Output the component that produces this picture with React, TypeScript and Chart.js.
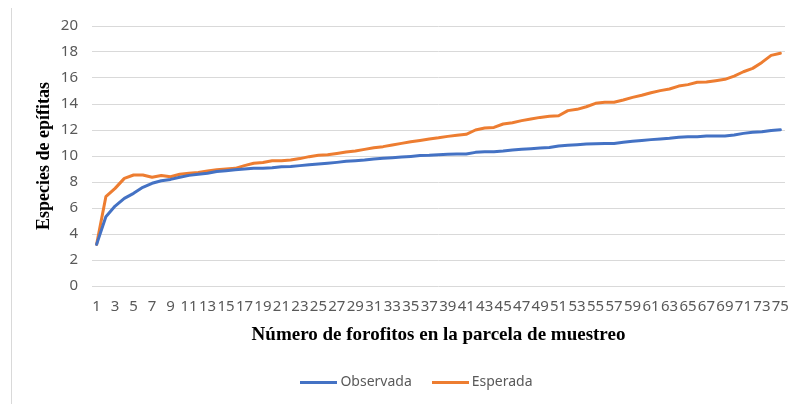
import React, { useEffect, useRef } from "react";
import { Chart, registerables } from "chart.js";

Chart.register(...registerables);

const categories: string[] = Array.from({ length: 75 }, (_, i) => String(i + 1));

const observada: number[] = [
  3.2, 5.33, 6.15, 6.74, 7.13, 7.59, 7.9, 8.1, 8.2, 8.36,
  8.51, 8.59, 8.67, 8.8, 8.87, 8.95, 9.0, 9.05, 9.05, 9.1,
  9.18, 9.2, 9.26, 9.33, 9.38, 9.44, 9.51, 9.59, 9.64, 9.69,
  9.77, 9.82, 9.87, 9.92, 9.97, 10.03, 10.05, 10.1, 10.13, 10.15,
  10.15, 10.28, 10.33, 10.33, 10.38, 10.46, 10.51, 10.56, 10.62, 10.65,
  10.77, 10.82, 10.87, 10.92, 10.95, 10.97, 10.97, 11.05, 11.13, 11.2,
  11.26, 11.31, 11.36, 11.44, 11.49, 11.49, 11.54, 11.54, 11.54, 11.62,
  11.74, 11.82, 11.87, 11.97, 12.02,
];

const esperada: number[] = [
  3.2, 6.87, 7.51, 8.28, 8.54, 8.54, 8.36, 8.5, 8.4, 8.6,
  8.67, 8.74, 8.85, 8.95, 9.0, 9.05, 9.26, 9.44, 9.5, 9.64,
  9.64, 9.7, 9.8, 9.95, 10.05, 10.1, 10.2, 10.31, 10.38, 10.51,
  10.64, 10.72, 10.85, 10.97, 11.1, 11.2, 11.31, 11.4, 11.51, 11.59,
  11.67, 12.0, 12.15, 12.2, 12.46, 12.56, 12.72, 12.85, 12.97, 13.05,
  13.1, 13.49, 13.59, 13.79, 14.05, 14.13, 14.13, 14.31, 14.51, 14.67,
  14.87, 15.03, 15.15, 15.38, 15.49, 15.67, 15.69, 15.79, 15.9, 16.15,
  16.48, 16.74, 17.2, 17.74, 17.9,
];

const seriesNames: string[] = ["Observada", "Esperada"];
const seriesColors: string[] = ["#4472C4", "#ED7D31"];
const yTitle = "Especies de epífitas";
const xTitle = "Número de forofitos en la parcela de muestreo";

const TICK_FONT = "'Noto Sans', sans-serif";
const TITLE_FONT = "'Liberation Serif', 'Times New Roman', serif";

function makeLineImage(color: string): HTMLCanvasElement {
  const c = document.createElement("canvas");
  c.width = 37;
  c.height = 3;
  const ctx = c.getContext("2d")!;
  ctx.fillStyle = color;
  ctx.fillRect(0, 0, 37, 3);
  return c;
}

const legendShift = {
  id: "legendShift",
  afterLayout(chart: any) {
    const lg = chart.legend;
    if (lg) {
      lg.left += 7;
      lg.right += 7;
    }
  },
};

export default function App() {
  const ref = useRef<HTMLCanvasElement | null>(null);

  useEffect(() => {
    if (!ref.current) return;
    const chart = new Chart(ref.current, {
      type: "line",
      data: {
        labels: categories,
        datasets: seriesNames.map((name, k) => ({
          label: name,
          data: k === 0 ? observada : esperada,
          borderColor: seriesColors[k],
          backgroundColor: seriesColors[k],
          borderWidth: 3,
          pointRadius: 0,
          pointStyle: makeLineImage(seriesColors[k]) as any,
          tension: 0,
          borderCapStyle: "round" as const,
          borderJoinStyle: "round" as const,
        })),
      },
      plugins: [legendShift],
      options: {
        animation: false,
        responsive: false,
        layout: { padding: { left: 30, right: 8, top: 26, bottom: 5 } },
        plugins: {
          tooltip: { enabled: false },
          legend: {
            position: "bottom",
            labels: {
              usePointStyle: true,
              pointStyleWidth: 29,
              boxHeight: 14,
              padding: 24,
              color: "#595959",
              font: { family: TICK_FONT, size: 14 },
            },
          },
        },
        scales: {
          x: {
            offset: true,
            grid: { display: false, drawTicks: false },
            border: { display: false },
            ticks: {
              autoSkip: false,
              maxRotation: 0,
              minRotation: 0,
              padding: 12,
              color: "#595959",
              font: { family: TICK_FONT, size: 15 },
              callback: (_v: any, idx: number) => (idx % 2 === 0 ? categories[idx] : ""),
            },
            title: {
              display: true,
              text: xTitle,
              color: "#000000",
              font: { family: TITLE_FONT, size: 19, weight: "bold" },
              padding: { top: 4, bottom: 5 },
            },
            afterFit: (scale: any) => {
              scale.height = 65;
            },
          },
          y: {
            min: 0,
            max: 20,
            grid: { color: "#d9d9d9", lineWidth: 1, drawTicks: false },
            border: { display: false },
            ticks: {
              stepSize: 2,
              padding: 14,
              color: "#595959",
              font: { family: TICK_FONT, size: 15 },
            },
            title: {
              display: true,
              text: yTitle,
              color: "#000000",
              font: { family: TITLE_FONT, size: 18, weight: "bold" },
              padding: { top: 4, bottom: 4 },
            },
            afterFit: (scale: any) => {
              scale.width = 62;
            },
          },
        },
      },
    });
    return () => chart.destroy();
  }, []);

  return (
    <div style={{ position: "absolute", left: 0, top: 0, width: 801, height: 404, background: "#ffffff" }}>
      <div style={{ position: "absolute", left: 11, top: 8, width: 1, height: 396, background: "#d9d9d9" }} />
      <canvas ref={ref} width={801} height={404} style={{ position: "absolute", left: 0, top: 0 }} />
    </div>
  );
}
